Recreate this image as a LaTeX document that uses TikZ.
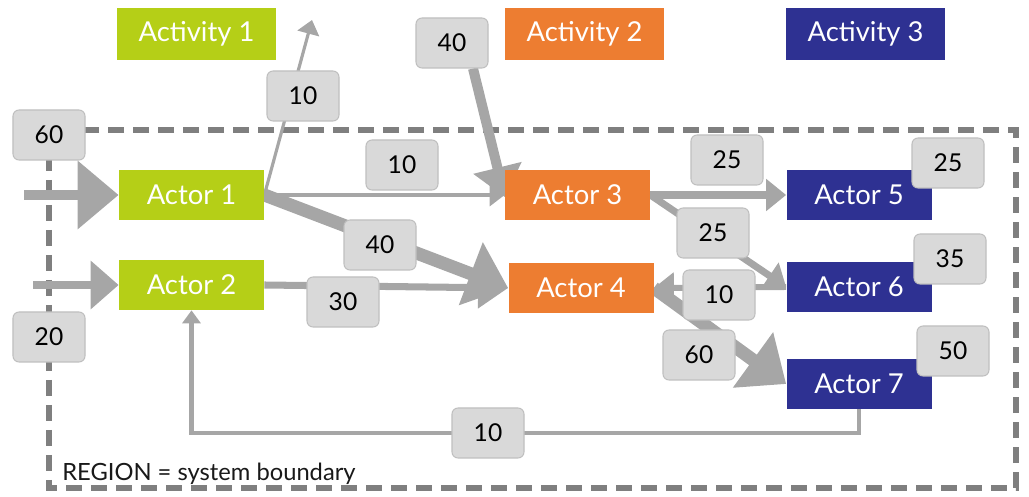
\documentclass[tikz,border=0pt]{standalone}
\usepackage{fontspec}
\setmainfont{Lato}
\usetikzlibrary{arrows.meta,backgrounds}

\definecolor{actgreen}{RGB}{181,207,23}
\definecolor{actorange}{RGB}{237,125,49}
\definecolor{actblue}{RGB}{46,49,146}
\definecolor{flowgray}{RGB}{166,166,166}
\definecolor{tagfill}{RGB}{217,217,217}
\definecolor{tagline}{RGB}{191,191,191}
\definecolor{edgegray}{RGB}{127,127,127}

\tikzset{
    actor/.style={fill=#1, text=white, inner sep=0pt, minimum width=2.9cm, minimum height=1cm,
        font=\fontsize{15.6}{18}\selectfont},
    activity/.style={actor=#1, minimum width=3.18cm, minimum height=1.04cm},
    flow/.style={fill=tagfill, draw=tagline, line width=0.6pt, rounded corners=0.12cm,
        minimum width=1.44cm, minimum height=1cm, inner sep=0pt, font=\fontsize{14}{16}\selectfont},
    pipe/.style={draw=flowgray, line width=#1},
    region/.style={draw=edgegray, line width=3.7pt, dash pattern=on 0.32cm off 0.18cm},
}

\begin{document}
\begin{tikzpicture}
    \useasboundingbox (0,0) rectangle (20.58,-9.94);
    % Legend
    \node[activity=actgreen] (act1) at (3.93,-0.68) {Activity 1};
    \node[activity=actorange] (act2) at (11.69,-0.68) {Activity 2};
    \node[activity=actblue] (act3) at (17.31,-0.68) {Activity 3};
    % Actors
    \node[actor=actgreen] (a1) at (3.83,-3.9) {Actor 1};
    \node[actor=actgreen] (a2) at (3.83,-5.7) {Actor 2};
    \node[actor=actorange] (a3) at (11.55,-3.9) {Actor 3};
    \node[actor=actorange] (a4) at (11.62,-5.76) {Actor 4};
    \node[actor=actblue] (a5) at (17.18,-3.9) {Actor 5};
    \node[actor=actblue] (a6) at (17.18,-5.74) {Actor 6};
    \node[actor=actblue] (a7) at (17.18,-7.68) {Actor 7};
    % Flow values
    \node[flow] (f60) at (0.98,-2.7) {60};
    \node[flow] (f20) at (0.98,-6.74) {20};
    \node[flow] (f1out) at (6.06,-1.92) {10};
    \node[flow] (f40in) at (9.04,-0.86) {40};
    \node[flow] (f13) at (8.04,-3.3) {10};
    \node[flow] (f14) at (7.6,-4.9) {40};
    \node[flow] (f24) at (6.86,-6.04) {30};
    \node[flow] (f35) at (14.54,-3.2) {25};
    \node[flow] (f36) at (14.26,-4.66) {25};
    \node[flow] (f64) at (14.38,-5.9) {10};
    \node[flow] (f47) at (13.98,-7.1) {60};
    \node[flow] (f5) at (18.96,-3.26) {25};
    \node[flow] (f6) at (19.0,-5.18) {35};
    \node[flow] (f7) at (19.06,-7.02) {50};
    \node[flow] (f72) at (9.76,-8.66) {10};
    \node[anchor=base west, inner sep=0pt, text=black!90, font=\fontsize{13.5}{16}\selectfont] (regtext)
        at (1.24,-9.62) {REGION = system boundary};
    % Free ends
    \coordinate (in1) at (0.48,-3.9);
    \coordinate (in2) at (0.66,-5.7);
    \coordinate (out1) at (6.24,-0.4);

    \begin{pgfonlayer}{background}
        % Boundary
        \draw[region] (0.98,-2.6) rectangle (20.32,-9.76);
        % Draw arrows
        \draw[pipe=6.2pt, -{Triangle[length=0.82cm,width=1.32cm]}] (in1) -- (a1.west);
        \draw[pipe=4pt, -{Triangle[length=0.56cm,width=0.94cm]}] (in2) -- (a2.west);
        \draw[pipe=1.8pt, -{Triangle[length=0.28cm,width=0.44cm]}] (a1.east) -- (out1);
        \draw[pipe=2pt, -{Triangle[length=0.3cm,width=0.44cm]}] (a1.east) -- (a3.west);
        \draw[pipe=5.7pt, -{Triangle[length=0.6cm,width=0.96cm]}] ([xshift=0.42cm]f40in.south) -- ([yshift=-0.04cm]a3.west);
        \draw[pipe=7.4pt, -{Triangle[length=0.8cm,width=1.3cm]}] (a1.east) -- (a4.west);
        \draw[pipe=4pt, -{Triangle[length=0.6cm,width=0.8cm]}] (a2.east) -- (a4.west);
        \draw[pipe=4pt, -{Triangle[length=0.4cm,width=0.62cm]}] (a3.east) -- (a5.west);
        \draw[pipe=4pt, -{Triangle[length=0.4cm,width=0.62cm]}] (a3.east) -- (a6.west);
        \draw[pipe=3.4pt, -{Triangle[length=0.4cm,width=0.6cm]}] (a6.west) -- (a4.east);
        \draw[pipe=7.4pt, -{Triangle[length=0.82cm,width=1.32cm]}] (a4.east) -- (a7.west);
        \draw[pipe=2.8pt, -{Triangle[length=0.26cm,width=0.36cm]}] (a7.south) |- (f72.center) -| (a2.south);
    \end{pgfonlayer}
\end{tikzpicture}
\end{document}
